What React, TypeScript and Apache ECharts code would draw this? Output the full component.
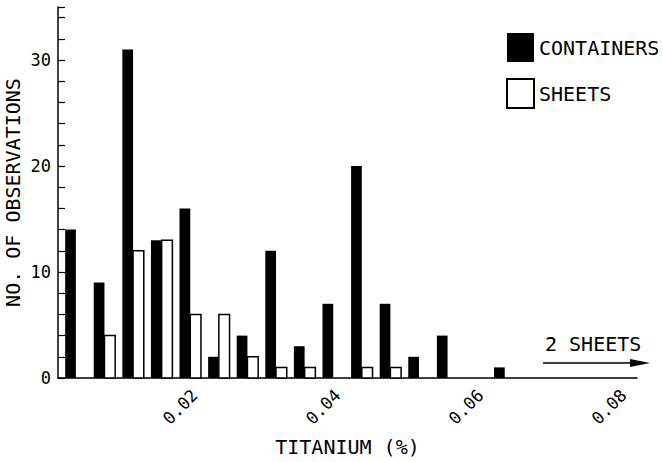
import React, { useEffect, useRef } from "react";
import * as echarts from "echarts";

// Bin lower edges (Titanium %, bin width 0.004)
const binStart = [0, 0.004, 0.008, 0.012, 0.016, 0.02, 0.024, 0.028, 0.032, 0.036, 0.04, 0.044, 0.048, 0.052, 0.056, 0.06];
const containers = [14, 9, 31, 13, 16, 2, 4, 12, 3, 7, 20, 7, 2, 4, 0, 1];
const sheets = [0, 4, 12, 13, 6, 6, 2, 1, 1, 0, 1, 1, 0, 0, 0, 0];
const seriesNames = ["CONTAINERS", "SHEETS"];
const xTicks = [0.02, 0.04, 0.06, 0.08];
const yLabels = [0, 10, 20, 30];

const FONT = "'DejaVu Sans Mono', monospace";

export default function App() {
  const ref = useRef<HTMLDivElement>(null);
  useEffect(() => {
    if (!ref.current) return;
    const chart = echarts.init(ref.current, undefined, { renderer: "svg" });
    const makeRender = (off0: number, off1: number, style: any) => (params: any, api: any) => {
      const x = api.value(0);
      const y = api.value(1);
      if (!y) return null;
      const p0 = api.coord([x + off0, y]);
      const p1 = api.coord([x + off1, 0]);
      return {
        type: "rect",
        shape: { x: p0[0], y: p0[1], width: p1[0] - p0[0], height: p1[1] - p0[1] },
        style,
      };
    };
    chart.setOption({
      animation: false,
      backgroundColor: "#fff",
      grid: { left: 58, right: 26, top: 7, bottom: 84, containLabel: false, outerBoundsMode: "none" },
      legend: {
        orient: "vertical",
        left: 506,
        top: 33,
        padding: 0,
        itemWidth: 27,
        itemHeight: 29,
        itemGap: 16,
        data: seriesNames.map((n) => ({ name: n, icon: "rect" })),
        textStyle: { fontFamily: FONT, fontSize: 20, color: "#000" },
      },
      xAxis: {
        type: "value",
        min: 0,
        max: 0.081,
        interval: 0.02,
        splitLine: { show: false },
        axisTick: { show: false },
        axisLine: { lineStyle: { color: "#000", width: 1.5 } },
        axisLabel: {
          rotate: 45,
          margin: 8,
          padding: [0, 9, 0, 0],
          color: "#000",
          fontFamily: FONT,
          fontSize: 17,
          formatter: (v: number) => {
            const hit = xTicks.find((t) => Math.abs(t - v) < 1e-9);
            return hit !== undefined ? hit.toFixed(2) : "";
          },
        },
        name: "TITANIUM (%)",
        nameLocation: "middle",
        nameGap: 59,
        nameMoveOverlap: false,
        nameTextStyle: { fontFamily: FONT, fontSize: 20, color: "#000", verticalAlign: "top" },
      },
      yAxis: {
        type: "value",
        min: 0,
        max: 35,
        interval: 2,
        splitLine: { show: false },
        axisLine: { show: true, lineStyle: { color: "#000", width: 1.5 } },
        axisTick: { show: true, inside: true, length: 7, lineStyle: { color: "#000", width: 1.2 } },
        axisLabel: {
          margin: 7,
          color: "#000",
          fontFamily: FONT,
          fontSize: 17,
          formatter: (v: number) => (yLabels.indexOf(v) >= 0 ? String(v) : ""),
        },
        name: "NO. OF OBSERVATIONS",
        nameLocation: "middle",
        nameGap: 35,
        nameMoveOverlap: false,
        nameTextStyle: { fontFamily: FONT, fontSize: 20, color: "#000" },
      },
      series: [
        {
          name: seriesNames[0],
          type: "custom",
          itemStyle: { color: "#000" },
          data: binStart.map((b, i) => [b, containers[i]]),
          renderItem: makeRender(0.001, 0.0025, { fill: "#000" }),
        },
        {
          name: seriesNames[1],
          type: "custom",
          itemStyle: { color: "#fff", borderColor: "#000", borderWidth: 1.5 },
          data: binStart.map((b, i) => [b, sheets[i]]),
          renderItem: makeRender(0.0025, 0.004, { fill: "#fff", stroke: "#000", lineWidth: 1.5 }),
        },
      ],
      graphic: [
        {
          type: "text",
          left: 545,
          top: 334,
          style: { text: "2 SHEETS", fontFamily: FONT, fontSize: 20, fill: "#000" },
        },
        {
          type: "line",
          shape: { x1: 543, y1: 363, x2: 632, y2: 363 },
          style: { stroke: "#000", lineWidth: 1.5 },
        },
        {
          type: "polygon",
          shape: { points: [[630, 359], [650, 363], [630, 367]] },
          style: { fill: "#000" },
        },
      ],
    });
    return () => chart.dispose();
  }, []);
  return <div ref={ref} style={{ position: "fixed", left: 0, top: 0, width: 663, height: 462 }} />;
}
